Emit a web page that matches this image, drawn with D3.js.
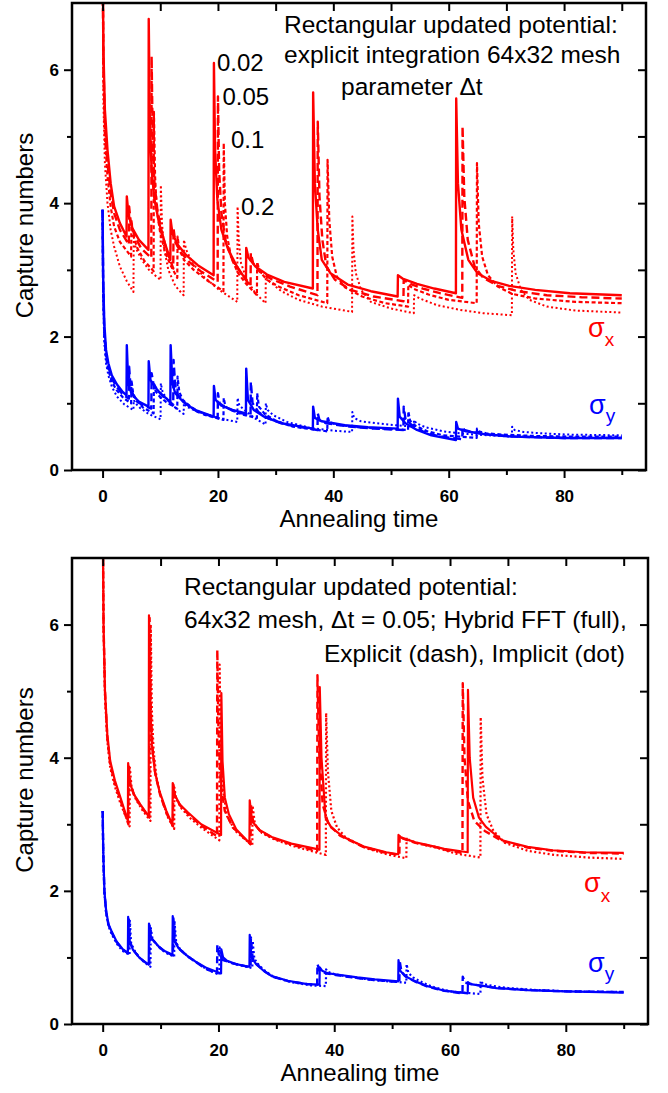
<!DOCTYPE html>
<html>
<head>
<meta charset="utf-8">
<script src="https://cdn.jsdelivr.net/npm/d3@7"></script>
<style>
  body { margin: 0; background: #fff; }
</style>
</head>
<body>
<div id="chart"></div>
<script>
// ---- data: [annealing time, capture number] ----

// top panel, explicit integration, parameter dt
const topRed002 = [[0,7.8],[0.15,6.3],[0.4,5.4],[0.85,4.8],[1.4,4.3],[2,3.95],[3,3.7],[4.15,3.5],
  [4.2,4.1],[4.5,3.82],[5.2,3.62],[6.3,3.45],[7.95,3.3],
  [8.0,6.76],[8.2,5.2],[8.5,4.5],[9,4.05],[9.8,3.7],[10.8,3.4],[11.75,3.15],
  [11.8,3.75],[12.1,3.55],[13,3.38],[14.5,3.22],[16.5,3.07],[19.25,2.92],
  [19.3,6.1],[19.5,4.8],[19.9,4.05],[20.6,3.6],[21.8,3.3],[23.3,3.05],[24.85,2.85],
  [24.9,3.33],[25.3,3.18],[26.5,3.05],[28.5,2.93],[31.5,2.82],[36.45,2.72],
  [36.5,5.66],[36.8,4.3],[37.3,3.6],[38,3.15],[39.5,2.95],[42.5,2.78],[46.5,2.68],[51.15,2.6],
  [51.2,2.92],[52,2.87],[54.5,2.79],[57.5,2.72],[61.25,2.65],
  [61.3,5.57],[61.6,4.3],[62.2,3.6],[63.4,3.15],[65,2.95],[67.5,2.83],[70.5,2.76],[75,2.7],[81,2.65],[90,2.62]];

const topRed005 = [[0,7.8],[0.15,6.1],[0.4,5.2],[0.85,4.6],[1.4,4.15],[2,3.85],[3,3.6],[4.55,3.38],
  [4.6,3.95],[4.9,3.7],[5.6,3.5],[6.7,3.32],[8.45,3.18],
  [8.5,6.2],[8.7,4.9],[9,4.3],[9.5,3.9],[10.3,3.55],[11.2,3.27],[12.25,3.02],
  [12.3,3.62],[12.6,3.42],[13.5,3.27],[15,3.12],[17,2.98],[19.95,2.82],
  [20.0,5.6],[20.2,4.5],[20.6,3.85],[21.3,3.45],[22.5,3.15],[24,2.95],[25.65,2.75],
  [25.7,3.25],[26.1,3.1],[27.3,2.97],[29.3,2.86],[32.5,2.75],[37.25,2.62],
  [37.3,5.22],[37.6,4.1],[38.1,3.45],[38.8,3.05],[40.3,2.85],[43,2.7],[47,2.6],[52.15,2.53],
  [52.2,2.85],[53,2.8],[55.5,2.72],[58.5,2.65],[62.35,2.58],
  [62.4,5.15],[62.7,4.1],[63.3,3.45],[64.5,3.05],[66,2.88],[68.5,2.76],[72,2.68],[77,2.62],[83,2.59],[90,2.57]];

const topRed01 = [[0,7.8],[0.15,5.9],[0.4,5.0],[0.85,4.4],[1.4,3.95],[2,3.65],[3,3.42],[4.95,3.2],
  [5.0,3.75],[5.3,3.52],[6,3.33],[7.2,3.14],[8.85,2.98],
  [8.9,5.37],[9.1,4.4],[9.4,3.9],[10,3.55],[10.9,3.25],[11.9,3.05],[12.95,2.88],
  [13.0,3.5],[13.3,3.3],[14.2,3.14],[15.8,3.0],[18,2.85],[20.95,2.68],
  [21.0,4.9],[21.2,4.0],[21.6,3.5],[22.3,3.18],[23.5,2.95],[25,2.78],[26.75,2.62],
  [26.8,3.12],[27.2,2.98],[28.5,2.85],[30.5,2.75],[34,2.62],[38.95,2.5],
  [39.0,4.65],[39.3,3.75],[39.8,3.2],[40.6,2.9],[42,2.74],[45,2.6],[49,2.5],[52.95,2.45],
  [53.0,2.78],[53.8,2.72],[56.5,2.63],[60,2.55],[64.85,2.5],
  [64.9,4.6],[65.2,3.7],[65.8,3.2],[66.8,2.92],[68.5,2.75],[71,2.64],[75,2.57],[82,2.52],[90,2.5]];

const topRed02 = [[0,7.8],[0.15,5.5],[0.4,4.6],[0.85,4.0],[1.4,3.6],[2,3.35],[3,3.05],[4.2,2.83],[5.35,2.67],
  [5.4,3.45],[5.8,3.32],[6.8,3.15],[8.2,2.98],[10.05,2.85],
  [10.1,4.27],[10.3,3.7],[10.7,3.3],[11.4,3.0],[12.6,2.76],[14.05,2.62],
  [14.1,3.45],[14.5,3.3],[15.6,3.1],[17.5,2.9],[20.2,2.7],[23.35,2.52],
  [23.4,3.95],[23.6,3.45],[24,3.1],[25,2.85],[26.5,2.65],[28.25,2.5],
  [28.3,2.9],[29,2.82],[31,2.68],[34,2.55],[38,2.45],[43.25,2.37],
  [43.3,3.8],[43.5,3.3],[43.9,2.95],[44.8,2.7],[46.5,2.52],[50,2.42],[53.95,2.35],
  [54.0,2.62],[55,2.57],[58,2.47],[62,2.4],[66,2.35],[70.95,2.32],
  [71.0,3.8],[71.2,3.3],[71.6,2.95],[72.5,2.7],[74,2.55],[77,2.45],[82,2.39],[90,2.36]];

const topBlue002 = [[0,3.9],[0.1,2.9],[0.3,2.2],[0.6,1.8],[1,1.6],[1.6,1.42],[2.5,1.28],[3.4,1.18],[4.15,1.12],
  [4.2,1.87],[4.45,1.3],[5,1.15],[6.2,1.03],[7.95,0.95],
  [8.0,1.63],[8.3,1.35],[9,1.25],[10,1.15],[11.75,1.02],
  [11.8,1.87],[12.1,1.3],[12.6,1.15],[14,1.02],[16,0.9],[19.25,0.8],
  [19.3,1.26],[19.6,1.05],[20.5,0.97],[22.5,0.9],[24.85,0.85],
  [24.9,1.52],[25.2,1.05],[26.2,0.9],[28,0.8],[31,0.7],[36.45,0.62],
  [36.5,0.95],[36.8,0.78],[38,0.73],[42,0.67],[46,0.64],[51.15,0.62],
  [51.2,1.07],[51.5,0.8],[52.5,0.7],[54.5,0.6],[57,0.52],[61.25,0.45],
  [61.3,0.72],[61.6,0.62],[63,0.58],[66,0.54],[71,0.5],[80,0.48],[90,0.48]];

const topBlue005 = [[0,3.9],[0.1,2.8],[0.3,2.1],[0.6,1.74],[1,1.55],[1.6,1.37],[2.5,1.24],[3.5,1.13],[4.55,1.07],
  [4.6,1.55],[4.85,1.25],[5.4,1.1],[6.6,0.99],[8.45,0.92],
  [8.5,1.45],[8.8,1.3],[9.5,1.2],[10.5,1.1],[12.25,0.98],
  [12.3,1.65],[12.6,1.26],[13.1,1.12],[14.5,0.99],[16.5,0.87],[19.95,0.78],
  [20.0,1.15],[20.3,1.0],[21.2,0.94],[23.2,0.87],[25.65,0.82],
  [25.7,1.32],[26,1.0],[27,0.87],[28.8,0.77],[31.8,0.68],[37.25,0.6],
  [37.3,0.85],[37.6,0.75],[38.8,0.7],[42.8,0.65],[47,0.62],[52.15,0.6],
  [52.2,0.95],[52.5,0.77],[53.5,0.68],[55.5,0.58],[58,0.51],[62.35,0.46],
  [62.4,0.65],[62.7,0.6],[64,0.57],[67,0.53],[72,0.5],[80,0.48],[90,0.48]];

const topBlue01 = [[0,3.9],[0.1,2.7],[0.3,2.0],[0.6,1.68],[1,1.5],[1.6,1.32],[2.5,1.19],[3.6,1.08],[4.95,1.0],
  [5.0,1.35],[5.3,1.15],[5.9,1.03],[7.1,0.93],[8.85,0.85],
  [8.9,1.3],[9.2,1.18],[9.9,1.1],[11,1.02],[12.95,0.92],
  [13.0,1.4],[13.3,1.17],[13.9,1.05],[15.4,0.94],[17.6,0.83],[20.95,0.75],
  [21.0,1.08],[21.3,0.95],[22.2,0.9],[24.3,0.83],[26.75,0.78],
  [26.8,1.15],[27.1,0.95],[28.1,0.84],[30,0.74],[33,0.65],[38.95,0.58],
  [39.0,0.8],[39.3,0.72],[40.5,0.68],[44.5,0.64],[48.5,0.62],[52.95,0.6],
  [53.0,0.88],[53.3,0.74],[54.3,0.66],[56.3,0.58],[59,0.52],[64.85,0.48],
  [64.9,0.62],[65.2,0.58],[66.5,0.55],[69.5,0.53],[75,0.51],[82,0.5],[90,0.5]];

const topBlue02 = [[0,3.9],[0.1,2.6],[0.3,1.9],[0.6,1.6],[1,1.42],[1.6,1.25],[2.5,1.1],[3.8,0.98],[5.35,0.9],
  [5.4,1.05],[5.7,1.0],[6.5,0.93],[8,0.84],[10.05,0.76],
  [10.1,1.3],[10.4,1.17],[11,1.08],[12.3,0.95],[14.05,0.84],
  [14.1,1.0],[14.5,0.95],[15.8,0.9],[18.5,0.82],[21,0.76],[23.35,0.72],
  [23.4,1.08],[23.7,0.97],[24.6,0.9],[26.3,0.78],[28.25,0.68],
  [28.3,1.0],[28.6,0.9],[29.6,0.82],[32,0.72],[36,0.63],[40,0.59],[43.25,0.57],
  [43.3,0.87],[43.6,0.78],[44.8,0.73],[47.5,0.7],[51,0.67],[53.95,0.65],
  [54.0,0.75],[54.4,0.7],[56,0.64],[59,0.58],[63,0.54],[67,0.52],[70.95,0.5],
  [71.0,0.65],[71.4,0.6],[73,0.57],[76,0.55],[81,0.53],[90,0.52]];

// bottom panel, dt = 0.05, three solvers
const botRedFull = [[0,7.8],[0.15,6.0],[0.4,5.0],[0.8,4.35],[1.3,3.95],[2.1,3.66],[3,3.42],[4.35,3.05],
  [4.4,3.92],[4.7,3.62],[5.4,3.45],[6.5,3.3],[7.95,3.12],
  [8.0,6.14],[8.2,4.8],[8.5,4.2],[9,3.8],[9.8,3.5],[11,3.2],[12.05,2.99],
  [12.1,3.62],[12.4,3.45],[13.3,3.3],[14.7,3.18],[17,3.0],[20.45,2.84],
  [20.5,4.97],[20.7,3.95],[21.1,3.4],[21.8,3.15],[23.1,2.92],[25.35,2.72],
  [25.4,3.36],[25.8,3.05],[27,2.92],[29.2,2.81],[32.6,2.71],[37.45,2.62],
  [37.5,5.06],[37.8,4.0],[38.5,3.1],[39.5,2.95],[41.6,2.81],[45.3,2.66],[49,2.58],[51.05,2.55],
  [51.1,2.84],[51.6,2.8],[54,2.73],[56,2.69],[59,2.63],[63.05,2.58],
  [63.1,5.02],[63.4,4.0],[64,3.4],[65,3.1],[66.2,2.96],[69,2.76],[73.4,2.66],[77.7,2.61],[83,2.58],[90,2.57]];

const botRedDash = [[0,7.8],[0.15,6.0],[0.4,5.0],[0.8,4.3],[1.3,3.9],[2.1,3.62],[3,3.38],[4.45,3.0],
  [4.5,3.9],[4.8,3.6],[5.5,3.42],[6.6,3.27],[8.05,3.1],
  [8.1,6.1],[8.3,4.75],[8.6,4.15],[9.1,3.75],[9.9,3.45],[11.1,3.15],[12.15,2.97],
  [12.2,3.6],[12.5,3.42],[13.4,3.28],[14.8,3.15],[17,2.98],[19.75,2.82],
  [19.8,5.62],[20,4.4],[20.4,3.6],[21.1,3.2],[22.5,2.95],[25.55,2.7],
  [25.6,3.3],[26,3.03],[27.2,2.9],[29.4,2.79],[32.8,2.69],[37.05,2.6],
  [37.1,5.24],[37.4,4.1],[38,3.3],[39,3.0],[41,2.83],[45,2.66],[49,2.57],[51.25,2.54],
  [51.3,2.84],[51.8,2.79],[54,2.72],[57,2.67],[59.5,2.61],[62.15,2.57],
  [62.2,5.12],[62.5,4.0],[63.1,3.35],[64.2,3.05],[66,2.9],[69,2.75],[73.4,2.65],[78,2.6],[84,2.57],[90,2.56]];

const botRedDot = [[0,7.8],[0.15,5.9],[0.4,4.9],[0.8,4.25],[1.3,3.85],[2.1,3.57],[3,3.33],[4.65,2.97],
  [4.7,3.85],[5,3.55],[5.7,3.38],[6.8,3.22],[8.25,3.05],
  [8.3,6.0],[8.5,4.7],[8.8,4.1],[9.3,3.7],[10.1,3.4],[11.3,3.1],[12.35,2.93],
  [12.4,3.55],[12.7,3.38],[13.6,3.24],[15,3.1],[17.2,2.94],[20.15,2.76],
  [20.2,5.4],[20.4,4.2],[20.8,3.5],[21.5,3.12],[22.9,2.9],[25.85,2.68],
  [25.9,3.28],[26.3,3.0],[27.5,2.87],[29.7,2.77],[33,2.67],[38.55,2.54],
  [38.6,4.67],[38.9,3.8],[39.5,3.2],[40.5,2.95],[42,2.8],[45.5,2.64],[49.5,2.54],[52.45,2.49],
  [52.5,2.8],[53,2.76],[55,2.7],[58,2.64],[61,2.56],[65.25,2.5],
  [65.3,4.61],[65.6,3.7],[66.3,3.15],[67.5,2.9],[69.5,2.72],[73.5,2.6],[78,2.54],[84,2.5],[90,2.48]];

const botBlueFull = [[0,3.2],[0.1,2.6],[0.3,2.0],[0.6,1.7],[1,1.5],[1.5,1.4],[2.4,1.24],[3.4,1.13],[4.35,1.07],
  [4.4,1.61],[4.6,1.25],[5.2,1.12],[6.3,1.0],[7.95,0.89],
  [8.0,1.51],[8.3,1.3],[8.7,1.26],[9.6,1.17],[10.6,1.1],[12.05,1.04],
  [12.1,1.62],[12.4,1.25],[13.1,1.14],[14.5,1.03],[16,0.94],[18,0.84],[20.45,0.76],
  [20.5,1.12],[20.8,1.0],[21.5,0.95],[23,0.9],[25.35,0.86],
  [25.4,1.34],[25.7,1.0],[26.5,0.9],[27.8,0.8],[29.2,0.72],[32,0.65],[35.3,0.6],[37.45,0.59],
  [37.5,0.85],[37.9,0.8],[39,0.76],[40.8,0.74],[44,0.7],[47,0.67],[51.05,0.64],
  [51.1,0.96],[51.4,0.8],[52.2,0.72],[54,0.64],[56,0.57],[59,0.5],[63.05,0.46],
  [63.1,0.63],[63.5,0.6],[66,0.57],[68,0.54],[73.4,0.51],[80,0.49],[90,0.47]];

const botBlueDash = [[0,3.2],[0.1,2.55],[0.3,1.98],[0.6,1.68],[1,1.49],[1.5,1.38],[2.4,1.23],[3.4,1.12],[4.45,1.06],
  [4.5,1.6],[4.7,1.24],[5.3,1.11],[6.4,0.99],[8.05,0.88],
  [8.1,1.5],[8.4,1.29],[8.8,1.25],[9.7,1.16],[10.7,1.09],[12.15,1.03],
  [12.2,1.6],[12.5,1.24],[13.2,1.13],[14.6,1.02],[16.1,0.93],[17.8,0.83],[19.75,0.76],
  [19.8,1.19],[20.1,1.02],[20.8,0.96],[22.5,0.91],[25.55,0.85],
  [25.6,1.3],[25.9,0.99],[26.7,0.89],[28,0.79],[29.4,0.71],[32.2,0.64],[35.3,0.6],[37.05,0.59],
  [37.1,0.9],[37.5,0.8],[38.6,0.76],[40.6,0.73],[44,0.69],[47,0.66],[51.25,0.63],
  [51.3,0.95],[51.6,0.79],[52.4,0.71],[54.2,0.63],[56.2,0.56],[59,0.5],[62.15,0.46],
  [62.2,0.71],[62.6,0.62],[65,0.58],[68,0.54],[73.4,0.51],[80,0.49],[90,0.48]];

const botBlueDot = [[0,3.2],[0.1,2.5],[0.3,1.95],[0.6,1.66],[1,1.47],[1.5,1.36],[2.4,1.21],[3.4,1.1],[4.65,1.04],
  [4.7,1.55],[4.9,1.22],[5.5,1.1],[6.6,0.97],[8.25,0.86],
  [8.3,1.45],[8.6,1.28],[9,1.23],[9.9,1.14],[10.9,1.07],[12.35,1.01],
  [12.4,1.55],[12.7,1.22],[13.4,1.12],[14.8,1.01],[16.3,0.92],[18,0.82],[20.15,0.74],
  [20.2,1.15],[20.5,1.0],[21.2,0.95],[22.9,0.9],[25.85,0.84],
  [25.9,1.25],[26.2,0.98],[27,0.88],[28.3,0.78],[29.7,0.7],[32.5,0.63],[36,0.58],[38.55,0.57],
  [38.6,0.82],[39,0.78],[40,0.75],[41.8,0.72],[45,0.68],[48,0.65],[52.45,0.62],
  [52.5,0.9],[52.8,0.77],[53.6,0.7],[55.3,0.62],[57.3,0.55],[60,0.49],[65.25,0.45],
  [65.3,0.65],[65.7,0.6],[67.5,0.57],[70,0.54],[75,0.51],[81,0.49],[90,0.48]];

const xTicksMajor = [0, 20, 40, 60, 80];
const xTicksMinor = [10, 30, 50, 70, 90];
const yTicksMajor = [0, 2, 4, 6];
const yTicksMinor = [1, 3, 5];

const topNote = ["Rectangular updated potential:", "explicit integration 64x32 mesh", "parameter \u0394t"];
const dtLabels = ["0.02", "0.05", "0.1", "0.2"];
const botNote = ["Rectangular updated potential:", "64x32 mesh, \u0394t = 0.05; Hybrid FFT (full),", "Explicit (dash), Implicit (dot)"];

const RED = "#ff0000", BLUE = "#0000ff";
const FONT = "'Liberation Sans', Arial, sans-serif";

const svg = d3.select("#chart")
  .append("svg")
  .attr("width", 668)
  .attr("height", 1093)
  .style("font-family", FONT);

function drawPanel(p, series, id) {
  const x = d3.scaleLinear().domain([-5.3, 94.2]).range([p.left, p.right]);
  const y = d3.scaleLinear().domain([0, 7]).range([p.bottom, p.top]);

  svg.append("clipPath").attr("id", id)
    .append("rect")
    .attr("x", p.left).attr("y", p.top)
    .attr("width", p.right - p.left).attr("height", p.bottom - p.top);

  const line = d3.line().x((d) => x(d[0])).y((d) => y(d[1]));

  svg.append("g")
    .attr("clip-path", `url(#${id})`)
    .attr("fill", "none")
    .selectAll("path")
    .data(series)
    .join("path")
    .attr("d", (s) => line(s.data))
    .attr("stroke", (s) => s.color)
    .attr("stroke-width", (s) => s.width)
    .attr("stroke-dasharray", (s) => s.dash)
    .attr("stroke-linejoin", "round");

  // ticks only; the frame is a rect
  const g = svg.append("g");
  const bottom = g.append("g").attr("transform", `translate(0,${p.bottom})`);
  bottom.append("g").call(d3.axisBottom(x).tickValues(xTicksMajor).tickSize(8).tickPadding(12));
  bottom.append("g").call(d3.axisBottom(x).tickValues(xTicksMinor).tickSize(5).tickFormat(""));

  g.append("g").attr("transform", `translate(0,${p.top})`)
    .call(d3.axisTop(x).tickValues(xTicksMajor.concat(xTicksMinor)).tickSize(-8).tickFormat(""));

  const left = g.append("g").attr("transform", `translate(${p.left},0)`);
  left.append("g").call(d3.axisLeft(y).tickValues(yTicksMajor).tickSize(8).tickPadding(5).tickFormat(d3.format("d")));
  left.append("g").call(d3.axisLeft(y).tickValues(yTicksMinor).tickSize(5).tickFormat(""));

  g.append("g").attr("transform", `translate(${p.right},0)`)
    .call(d3.axisRight(y).tickValues(yTicksMajor.concat(yTicksMinor)).tickSize(-8).tickFormat(""));

  g.selectAll(".domain").remove();
  g.selectAll(".tick line").attr("stroke", "#000").attr("stroke-width", 2);
  g.selectAll(".tick text")
    .attr("fill", "#000")
    .attr("font-size", 17)
    .attr("font-weight", "bold")
    .attr("font-family", FONT);

  svg.append("rect")
    .attr("x", p.left).attr("y", p.top)
    .attr("width", p.right - p.left).attr("height", p.bottom - p.top)
    .attr("fill", "none").attr("stroke", "#000").attr("stroke-width", 2.5);

  svg.append("text")
    .attr("x", (p.left + p.right) / 2).attr("y", p.bottom + 57)
    .attr("text-anchor", "middle").style("font-size", "24px")
    .text("Annealing time");

  svg.append("text")
    .attr("transform", `translate(33,${(p.top + p.bottom) / 2 - 11}) rotate(-90)`)
    .attr("text-anchor", "middle").style("font-size", "24px")
    .text("Capture numbers");

  return { x, y };
}

function sigma(xp, yp, sub, color, subDy) {
  const t = svg.append("text").attr("x", xp).attr("y", yp).attr("fill", color).style("font-size", "27px");
  t.append("tspan").text("\u03c3");
  t.append("tspan").attr("dy", subDy).style("font-size", "19px").text(sub);
}

// top panel
drawPanel({ left: 72, right: 646, top: 3, bottom: 470 }, [
  { data: topRed02, color: RED, width: 2, dash: "2,2.5" },
  { data: topRed01, color: RED, width: 2.2, dash: "4,2.5" },
  { data: topRed005, color: RED, width: 2.4, dash: "8,4" },
  { data: topRed002, color: RED, width: 2.4, dash: null },
  { data: topBlue02, color: BLUE, width: 2, dash: "2,2.5" },
  { data: topBlue01, color: BLUE, width: 2.2, dash: "4,2.5" },
  { data: topBlue005, color: BLUE, width: 2.4, dash: "8,4" },
  { data: topBlue002, color: BLUE, width: 2.4, dash: null }
], "clipTop");

svg.append("g").style("font-size", "24.5px")
  .selectAll("text")
  .data(topNote)
  .join("text")
  .attr("x", (d, i) => (i < 2 ? 284 : 341))
  .attr("y", (d, i) => [33, 63, 95][i])
  .text((d) => d);

svg.append("g").style("font-size", "24px")
  .selectAll("text")
  .data(dtLabels)
  .join("text")
  .attr("x", (d, i) => [217, 222.5, 231, 241][i])
  .attr("y", (d, i) => [71, 105, 148, 215][i])
  .text((d) => d);

sigma(588, 337, "x", RED, 9);
sigma(589, 414, "y", BLUE, 8);

// bottom panel
drawPanel({ left: 72, right: 648, top: 558, bottom: 1024 }, [
  { data: botRedDot, color: RED, width: 2.2, dash: "2,2.5" },
  { data: botRedDash, color: RED, width: 2.4, dash: "7,4" },
  { data: botRedFull, color: RED, width: 2.2, dash: null },
  { data: botBlueDot, color: BLUE, width: 2.2, dash: "2,2.5" },
  { data: botBlueDash, color: BLUE, width: 2.4, dash: "7,4" },
  { data: botBlueFull, color: BLUE, width: 2.2, dash: null }
], "clipBot");

svg.append("g").style("font-size", "24.5px")
  .selectAll("text")
  .data(botNote)
  .join("text")
  .attr("x", (d, i) => (i < 2 ? 184 : 324))
  .attr("y", (d, i) => [595, 628, 662][i])
  .text((d) => d);

sigma(584, 892, "x", RED, 10);
sigma(588, 972, "y", BLUE, 8);
</script>
</body>
</html>
